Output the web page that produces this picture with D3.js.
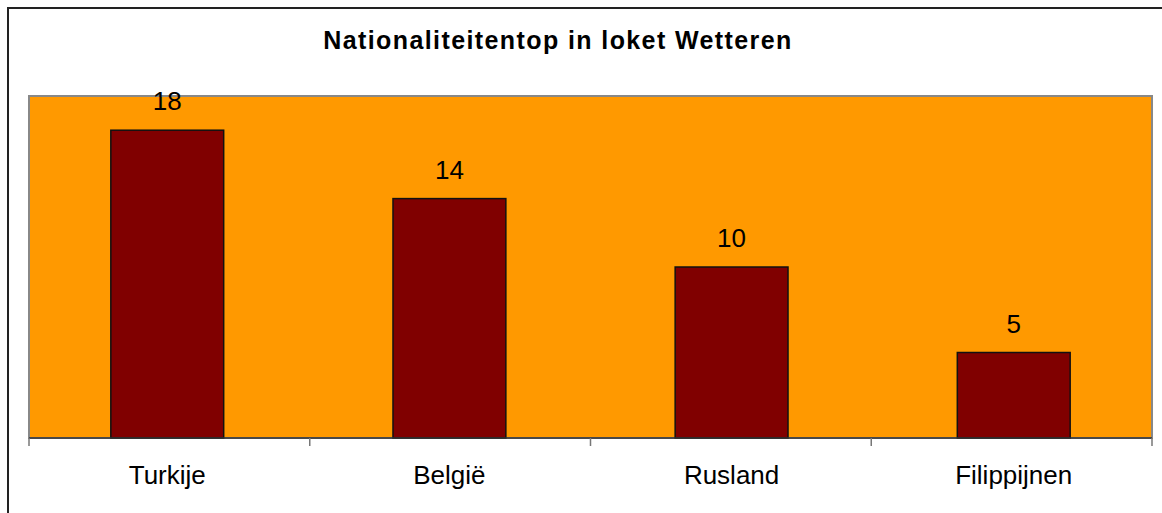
<!DOCTYPE html>
<html>
<head>
<meta charset="utf-8">
<script src="https://cdn.jsdelivr.net/npm/d3@7"></script>
<style>
  body { margin: 0; background: #fff; }
  svg { display: block; }
</style>
</head>
<body>
<svg id="chart"></svg>
<script>
// data
var categories = ["Turkije", "België", "Rusland", "Filippijnen"]
var values = [18, 14, 10, 5]
var title = "Nationaliteitentop in loket Wetteren"

var dimensions = { width: 1162, height: 513 }
var plot = { left: 29, right: 1152, top: 96, bottom: 438 }

var svg = d3.select("#chart")
  .attr("width", dimensions.width)
  .attr("height", dimensions.height)
  .style("font-family", "'Liberation Sans', Arial, sans-serif")

// outer frame (cut off at right and bottom)
svg.append("rect")
  .attr("x", 8).attr("y", 8)
  .attr("width", 1170).attr("height", 520)
  .attr("fill", "none")
  .attr("stroke", "#222")
  .attr("stroke-width", 2)

// title
svg.append("text")
  .attr("x", 558)
  .attr("y", 49)
  .attr("text-anchor", "middle")
  .style("font-weight", "bold")
  .style("font-size", "25px")
  .style("letter-spacing", "1.4px")
  .text(title)

// scales
var x = d3.scaleBand()
  .domain(categories)
  .range([plot.left, plot.right])
  .paddingInner(0.6)
  .paddingOuter(0.29)

var y = d3.scaleLinear()
  .domain([0, 20])
  .range([plot.bottom, plot.top])

// plot background
svg.append("rect")
  .attr("x", plot.left)
  .attr("y", plot.top)
  .attr("width", plot.right - plot.left)
  .attr("height", plot.bottom - plot.top)
  .attr("fill", "#ff9900")
  .attr("stroke", "#888")
  .attr("stroke-width", 2)

// bars
svg.append("g")
  .selectAll("rect")
  .data(values)
  .join("rect")
  .attr("x", (d, i) => x(categories[i]))
  .attr("y", d => y(d))
  .attr("width", x.bandwidth())
  .attr("height", d => y(0) - y(d))
  .attr("fill", "#800000")
  .attr("stroke", "#111")
  .attr("stroke-width", 1.5)

// value labels
svg.append("g")
  .selectAll("text")
  .data(values)
  .join("text")
  .attr("x", (d, i) => x(categories[i]) + x.bandwidth() / 2)
  .attr("y", d => y(d) - 20)
  .attr("text-anchor", "middle")
  .style("font-size", "26px")
  .text(d => d)

// x axis: line, boundary ticks and labels
var step = (plot.right - plot.left) / categories.length
var boundaries = d3.range(categories.length + 1).map(i => plot.left + i * step)

svg.append("line")
  .attr("x1", plot.left).attr("x2", plot.right)
  .attr("y1", plot.bottom).attr("y2", plot.bottom)
  .attr("stroke", "#333")
  .attr("stroke-width", 1.5)

svg.append("g")
  .selectAll("line")
  .data(boundaries)
  .join("line")
  .attr("x1", d => d).attr("x2", d => d)
  .attr("y1", plot.bottom).attr("y2", plot.bottom + 8)
  .attr("stroke", "#777")
  .attr("stroke-width", 1.5)

svg.append("g")
  .selectAll("text")
  .data(categories)
  .join("text")
  .attr("x", d => x(d) + x.bandwidth() / 2)
  .attr("y", 484)
  .attr("text-anchor", "middle")
  .style("font-size", "26px")
  .text(d => d)
</script>
</body>
</html>
